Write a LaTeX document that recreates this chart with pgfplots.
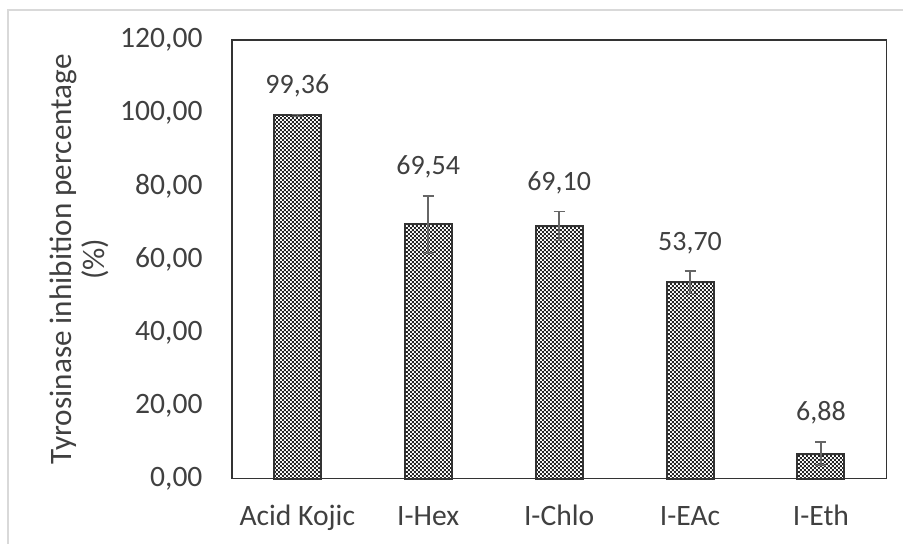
\documentclass[border=0pt]{standalone}
\usepackage{fontspec}
\setmainfont{Carlito}
\usepackage{pgfplots}
\usepackage{pgfplotstable}
\pgfplotsset{compat=1.18}
\usetikzlibrary{patterns}

\definecolor{txt}{HTML}{404040}
\definecolor{frame}{HTML}{333333}
\definecolor{errc}{HTML}{666666}
\definecolor{outer}{HTML}{D9D9D9}

% small checkerboard fill like the Excel pattern
\pgfdeclarepatternformonly{chk}{\pgfqpoint{0pt}{0pt}}{\pgfqpoint{2pt}{2pt}}{\pgfqpoint{2pt}{2pt}}{%
  \pgfpathrectangle{\pgfqpoint{0pt}{0pt}}{\pgfqpoint{1pt}{1pt}}%
  \pgfpathrectangle{\pgfqpoint{1pt}{1pt}}{\pgfqpoint{1pt}{1pt}}%
  \pgfusepath{fill}}

\pgfplotstableread{
x y err
0 99.36 0.3
1 69.54 7.8
2 69.10 4.0
3 53.70 3.1
4 6.88 3.2
}\inhib

\begin{document}
\begin{tikzpicture}
\path (0,0) rectangle (452bp,272bp);
\draw[outer, line width=0.6bp] (4bp,0) -- (4bp,267bp) -- (452bp,267bp);
\begin{axis}[
  at={(116bp,32.5bp)}, anchor=south west,
  scale only axis, width=327.5bp, height=219.5bp,
  xmin=-0.5, xmax=4.5, ymin=0, ymax=120,
  axis line style={frame, line width=0.8bp},
  major tick length=0pt,
  xtick=data,
  xticklabels={Acid Kojic, I-Hex, I-Chlo, I-EAc, I-Eth},
  ytick={0,20,...,120},
  font=\fontsize{14.8bp}{17bp}\selectfont,
  tick label style={text=txt},
  xticklabel style={anchor=base, inner sep=0pt, yshift=-23.5bp},
  yticklabel style={anchor=east, inner sep=0pt, xshift=-14.5bp,
    /pgf/number format/.cd, fixed, fixed zerofill, precision=2, use comma},
  /pgf/number format/assume math mode=true,
  ylabel={Tyrosinase inhibition percentage\\[1.5bp](\%)},
  ylabel style={at={(axis description cs:-0.233,0.5)}, anchor=center,
    align=center, text=txt, inner sep=0pt,
    font=\fontsize{15.6bp}{15bp}\selectfont},
  clip=false,
]
\addplot[ybar, bar width=23.5bp, bar shift=0pt, draw=frame, line width=1bp,
  pattern=chk, pattern color=black!85,
  error bars/.cd, y dir=both, y explicit,
  error bar style={errc, line width=0.8bp},
  error mark options={errc, line width=0.8bp, mark size=2.75bp, rotate=90}]
  table[x=x, y=y, y error=err] {\inhib};
\addplot[draw=none, mark=none,
  point meta=explicit,
  nodes near coords={\pgfmathprintnumber[fixed, fixed zerofill, precision=2, use comma, assume math mode=true]{\pgfplotspointmeta}},
  nodes near coords style={anchor=base, inner sep=0pt, yshift=10.5bp, text=txt,
    font=\fontsize{14bp}{16bp}\selectfont}]
  table[x=x, y expr=\thisrow{y}+\thisrow{err}, meta=y] {\inhib};
\end{axis}
\end{tikzpicture}
\end{document}
